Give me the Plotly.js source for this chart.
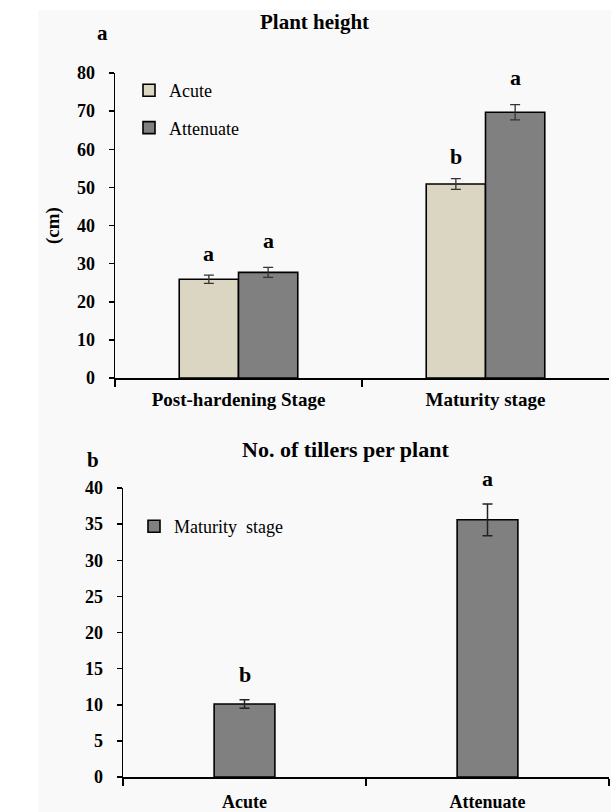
<!DOCTYPE html>
<html>
<head>
<meta charset="utf-8">
<script src="https://cdn.plot.ly/plotly-3.0.1.min.js"></script>
<style>html,body{margin:0;padding:0;background:#fff;}#chart{width:611px;height:812px;}</style>
</head>
<body>
<div id="chart"></div>
<script>
// Panel a: plant height (cm)
const stages = ['Post-hardening Stage', 'Maturity stage'];
const heightAcute = [25.9, 50.9];
const heightAcuteErr = [1.1, 1.4];
const heightAttenuate = [27.7, 69.7];
const heightAttenuateErr = [1.3, 2.0];
const lettersAcute = ['a', 'b'];
const lettersAttenuate = ['a', 'a'];

// Panel b: number of tillers per plant
const tillerCats = ['Acute', 'Attenuate'];
const tillers = [10.1, 35.6];
const tillersErr = [0.6, 2.2];
const lettersTillers = ['b', 'a'];

const W = 611, H = 812;
const px = v => v / W;
const py = v => 1 - v / H;
const serif = 'Liberation Serif, Times New Roman, serif';
const boldFont = (s) => ({family: serif, size: s, color: '#000', weight: 'bold'});

const traces = [
  {type: 'bar', name: 'Acute', x: stages, y: heightAcute,
   error_y: {type: 'data', array: heightAcuteErr, visible: true, color: '#333', thickness: 1.3, width: 5},
   marker: {color: '#dbd6c1', line: {color: '#000', width: 1.6}},
   xaxis: 'x', yaxis: 'y', legend: 'legend', legendgroup: 'g1'},
  {type: 'bar', name: 'Attenuate', x: stages, y: heightAttenuate,
   error_y: {type: 'data', array: heightAttenuateErr, visible: true, color: '#333', thickness: 1.3, width: 5},
   marker: {color: '#808080', line: {color: '#000', width: 1.6}},
   xaxis: 'x', yaxis: 'y', legend: 'legend', legendgroup: 'g2'},
  {type: 'bar', name: 'Maturity  stage', x: tillerCats, y: tillers,
   error_y: {type: 'data', array: tillersErr, visible: true, color: '#222', thickness: 1.5, width: 5},
   marker: {color: '#808080', line: {color: '#000', width: 1.6}},
   xaxis: 'x2', yaxis: 'y2', legend: 'legend2'}
];

const annotations = [];
stages.forEach((s, i) => {
  annotations.push({xref: 'x', yref: 'y', x: s, y: heightAcute[i] + heightAcuteErr[i], text: lettersAcute[i],
    showarrow: false, xshift: -30, yshift: 22, xanchor: 'center', yanchor: 'middle', font: boldFont(22)});
  annotations.push({xref: 'x', yref: 'y', x: s, y: heightAttenuate[i] + heightAttenuateErr[i], text: lettersAttenuate[i],
    showarrow: false, xshift: 30, yshift: 27, xanchor: 'center', yanchor: 'middle', font: boldFont(22)});
});
tillerCats.forEach((c, i) => {
  annotations.push({xref: 'x2', yref: 'y2', x: c, y: tillers[i] + tillersErr[i], text: lettersTillers[i],
    showarrow: false, yshift: 25, xanchor: 'center', yanchor: 'middle', font: boldFont(22)});
});
// titles and panel labels
const paperText = (x, y, text, size) => ({xref: 'paper', yref: 'paper', x: px(x), y: py(y), text: text,
  showarrow: false, xanchor: 'center', yanchor: 'middle', font: boldFont(size)});
annotations.push(paperText(314, 22, 'Plant height', 21));
annotations.push(paperText(102, 33, 'a', 21));
annotations.push(paperText(345, 449, 'No. of tillers per plant', 22));
annotations.push(paperText(93, 460, 'b', 21));

const xCommon = {
  showline: true, linecolor: '#000', linewidth: 1.5,
  ticks: 'outside', tickson: 'boundaries', ticklen: 7, tickcolor: '#000', tickwidth: 1.5,
  showgrid: false, zeroline: false
};
const yCommon = {
  showline: true, linecolor: '#000', linewidth: 1.5,
  ticks: 'outside', ticklen: 5, tickcolor: '#000', tickwidth: 1.5,
  showgrid: false, zeroline: false, tickfont: boldFont(18), ticklabelstandoff: 10
};

const layout = {
  width: W, height: H,
  margin: {l: 0, r: 0, t: 0, b: 0},
  paper_bgcolor: '#ffffff', plot_bgcolor: 'rgba(0,0,0,0)',
  barmode: 'group', bargap: 0.52, bargroupgap: 0,
  showlegend: true,
  xaxis: Object.assign({}, xCommon, {domain: [px(115), px(609)], anchor: 'y', ticklabelstandoff: 4, tickfont: boldFont(19)}),
  yaxis: Object.assign({}, yCommon, {domain: [py(378), py(73)], anchor: 'x', range: [0, 80], dtick: 10,
    title: {text: '(cm)', font: boldFont(19), standoff: 12}}),
  xaxis2: Object.assign({}, xCommon, {domain: [px(123), px(609)], anchor: 'y2', ticklabelstandoff: 8, tickfont: boldFont(18)}),
  yaxis2: Object.assign({}, yCommon, {domain: [py(777), py(488)], anchor: 'x2', range: [0, 40], dtick: 5}),
  legend: {x: px(129), y: py(72), xanchor: 'left', yanchor: 'top', bgcolor: 'rgba(0,0,0,0)',
    font: {family: serif, size: 18, color: '#000'}, traceorder: 'grouped', tracegroupgap: 11, itemwidth: 30},
  legend2: {x: px(134), y: py(508), xanchor: 'left', yanchor: 'top', bgcolor: 'rgba(0,0,0,0)',
    font: {family: serif, size: 18, color: '#000'}, itemwidth: 30},
  annotations: annotations,
  shapes: [{type: 'rect', xref: 'paper', yref: 'paper', x0: px(38), x1: 1, y0: 0, y1: py(10),
    fillcolor: '#f9f9f9', line: {width: 0}, layer: 'below'}]
};

// bar widths for the lower panel differ from the grouped panel
traces[2].width = [0.25, 0.25];

Plotly.newPlot('chart', traces, layout, {displayModeBar: false, staticPlot: true});
</script>
</body>
</html>
